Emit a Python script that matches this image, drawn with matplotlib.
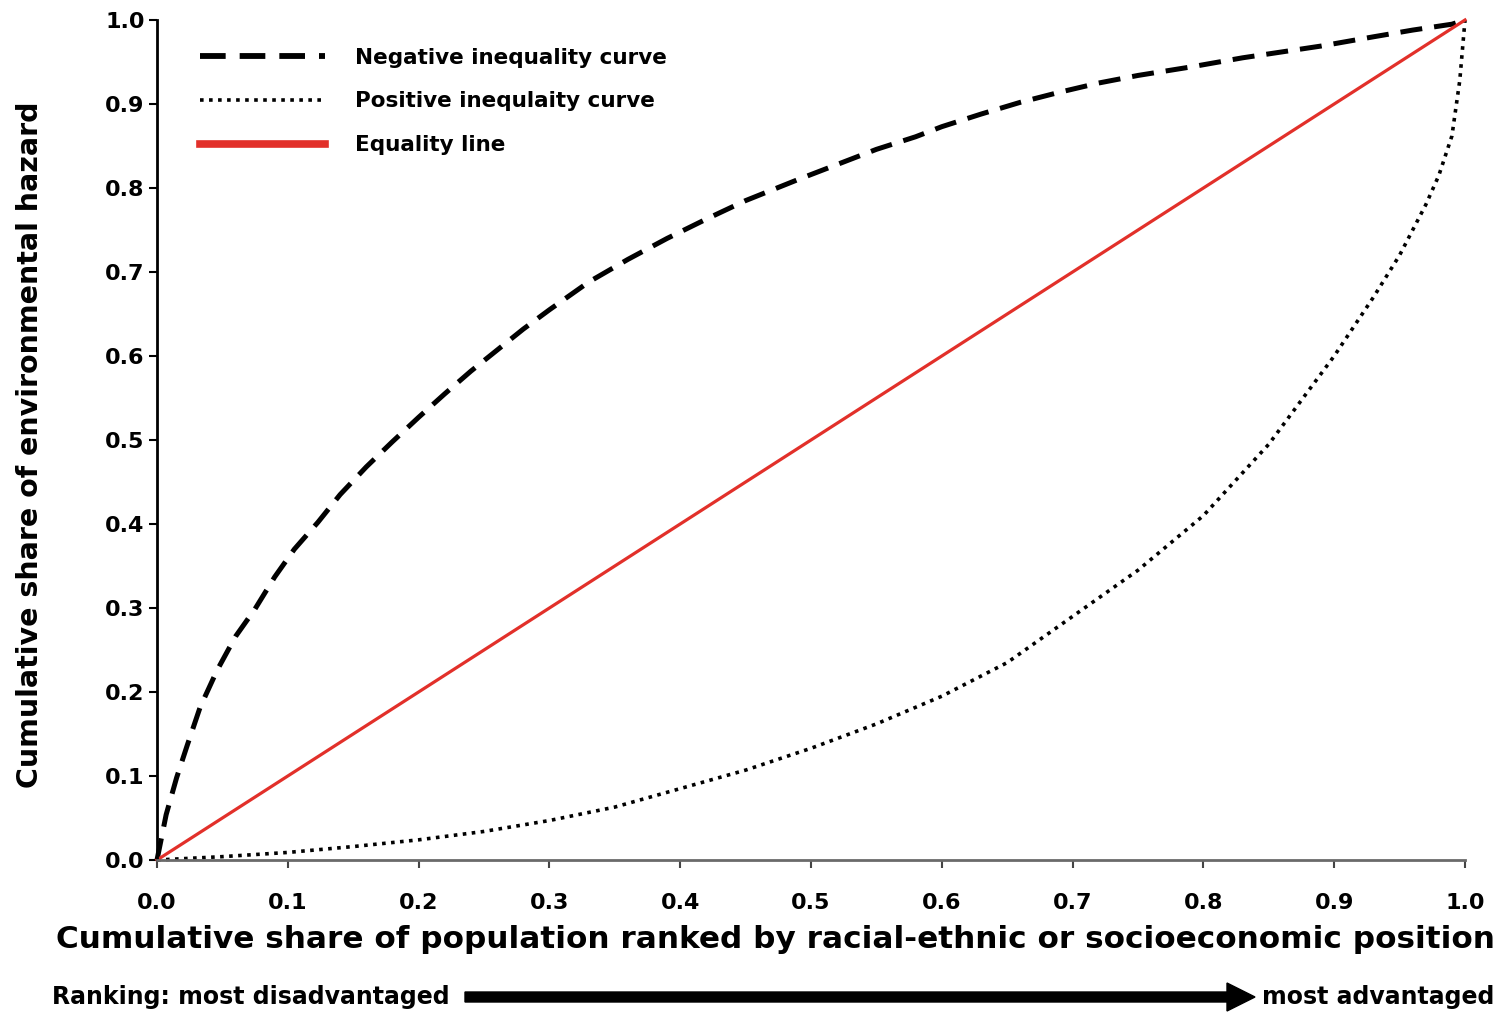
import matplotlib
matplotlib.use("Agg")
import matplotlib.pyplot as plt
from matplotlib.patches import FancyArrow

# values
neg_x = [0.0, 0.007, 0.015, 0.023, 0.033, 0.046, 0.06, 0.075, 0.09, 0.105, 0.123, 0.14,
         0.16, 0.18, 0.20, 0.22, 0.24, 0.26, 0.28, 0.30, 0.33, 0.36, 0.39, 0.42, 0.45,
         0.49, 0.52, 0.55, 0.58, 0.60, 0.63, 0.66, 0.69, 0.72, 0.75, 0.79, 0.83, 0.86,
         0.89, 0.93, 0.96, 0.99, 1.0]
neg_y = [0.0, 0.054, 0.098, 0.136, 0.182, 0.226, 0.266, 0.299, 0.337, 0.37, 0.402, 0.435,
         0.468, 0.498, 0.527, 0.555, 0.582, 0.607, 0.632, 0.655, 0.688, 0.715, 0.74, 0.763,
         0.785, 0.81, 0.828, 0.846, 0.861, 0.873, 0.888, 0.902, 0.914, 0.925, 0.934, 0.944,
         0.955, 0.962, 0.969, 0.98, 0.988, 0.995, 1.0]

pos_x = [0.0, 0.05, 0.10, 0.15, 0.20, 0.25, 0.30, 0.35, 0.40, 0.45, 0.50, 0.55, 0.60,
         0.65, 0.70, 0.75, 0.80, 0.85, 0.90, 0.93, 0.95, 0.97, 0.98, 0.99, 0.996, 1.0]
pos_y = [0.0, 0.004, 0.009, 0.016, 0.024, 0.034, 0.047, 0.063, 0.085, 0.107, 0.133,
         0.162, 0.195, 0.235, 0.29, 0.345, 0.41, 0.495, 0.60, 0.67, 0.72, 0.78, 0.815,
         0.862, 0.928, 1.0]

eq_x = [0.0, 1.0]
eq_y = [0.0, 1.0]

ticks = [0.0, 0.1, 0.2, 0.3, 0.4, 0.5, 0.6, 0.7, 0.8, 0.9, 1.0]
tick_labels = ["0.0", "0.1", "0.2", "0.3", "0.4", "0.5", "0.6", "0.7", "0.8", "0.9", "1.0"]

plt.rcParams["font.family"] = ["DejaVu Sans"]

W, H = 1506, 1013
fig = plt.figure(figsize=(W / 100, H / 100), dpi=100)
ax = fig.add_axes([157 / W, 153 / H, 1308 / W, 840 / H])

ax.plot(neg_x, neg_y, color="black", lw=3.6, dashes=(4.4, 2.4),
        label="Negative inequality curve", clip_on=False)
ax.plot(pos_x, pos_y, color="black", lw=2.6, dashes=(1.0, 1.5),
        label="Positive inequlaity curve", clip_on=False)
ax.plot(eq_x, eq_y, color="#e2302a", lw=2.3, label="Equality line", clip_on=False)

ax.set_xlim(0, 1)
ax.set_ylim(0, 1)
ax.set_xticks(ticks)
ax.set_xticklabels(tick_labels)
ax.set_yticks(ticks)
ax.set_yticklabels(tick_labels)

for side in ["top", "right"]:
    ax.spines[side].set_visible(False)
ax.spines["left"].set_linewidth(2)
ax.spines["left"].set_color("black")
ax.spines["bottom"].set_linewidth(2)
ax.spines["bottom"].set_color("#6a6a6a")

ax.tick_params(axis="x", direction="out", length=6, width=1.5, color="#444444",
               pad=18, labelsize=16)
ax.tick_params(axis="y", direction="out", length=6, width=1.5, color="black",
               pad=3, labelsize=16)
for lab in ax.get_xticklabels() + ax.get_yticklabels():
    lab.set_fontweight("bold")

leg = ax.legend(loc="upper left", bbox_to_anchor=(0.033, 0.967), frameon=False,
                borderpad=0, borderaxespad=0, handlelength=5.8, handletextpad=1.4,
                labelspacing=1.1, prop={"weight": "bold", "size": 15.5})
hl = leg.legend_handles
hl[0].set_linewidth(4.2)
hl[2].set_linewidth(5.5)

# axis titles
fig.text(56 / W, 1 - 939 / H,
         "Cumulative share of population ranked by racial-ethnic or socioeconomic position",
         ha="left", va="center", fontsize=22.4, fontweight="bold")
fig.text(30 / W, 1 - 445 / H, "Cumulative share of environmental hazard",
         rotation=90, ha="center", va="center", fontsize=20.5, fontweight="bold")

# ranking arrow row
fig.text(52 / W, 1 - 997 / H, "Ranking: most disadvantaged", ha="left", va="center",
         fontsize=17, fontweight="bold")
fig.text(1262 / W, 1 - 997 / H, "most advantaged", ha="left", va="center", fontsize=17,
         fontweight="bold")
arrow = FancyArrow(465 / W, 1 - 997 / H, 790 / W, 0, width=10 / H, head_width=28 / H,
                   head_length=28 / W, length_includes_head=True, color="black",
                   transform=fig.transFigure)
fig.patches.append(arrow)

fig.savefig("out.png", dpi=100)
